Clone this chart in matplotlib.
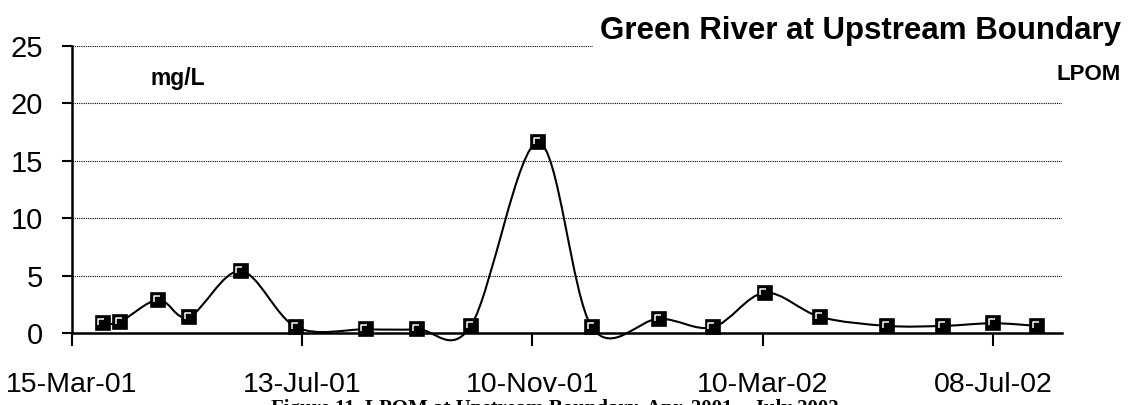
import numpy as np
import matplotlib
matplotlib.use("Agg")
import matplotlib.pyplot as plt
import matplotlib.dates as mdates
from matplotlib.path import Path
from matplotlib.patches import PathPatch

plt.rcParams['font.family'] = ['Liberation Sans', 'DejaVu Sans']

# ---------- data ----------
dates = ["2001-03-31", "2001-04-09", "2001-04-29", "2001-05-15", "2001-06-11",
         "2001-07-10", "2001-08-15", "2001-09-11", "2001-10-09", "2001-11-13",
         "2001-12-11", "2002-01-15", "2002-02-12", "2002-03-11", "2002-04-09",
         "2002-05-14", "2002-06-12", "2002-07-08", "2002-07-31"]
lpom = [0.85, 0.97, 2.9, 1.4, 5.4,
        0.5, 0.32, 0.32, 0.65, 16.6,
        0.5, 1.25, 0.5, 3.5, 1.4,
        0.62, 0.62, 0.85, 0.62]
tick_dates = ["2001-03-15", "2001-07-13", "2001-11-10", "2002-03-10", "2002-07-08"]
tick_labels = ["15-Mar-01", "13-Jul-01", "10-Nov-01", "10-Mar-02", "08-Jul-02"]
y_ticks = [0, 5, 10, 15, 20, 25]

x = mdates.date2num(np.array(dates, dtype="datetime64[D]"))
y = np.array(lpom)
xt = mdates.date2num(np.array(tick_dates, dtype="datetime64[D]"))

W, H = 1133, 405
fig = plt.figure(figsize=(W/100, H/100), dpi=100)
ax = fig.add_axes([72/W, 1-333/H, (1062-72)/W, (333-46)/H])

# smoothed line like Excel (Catmull-Rom as cubic Bezier)
def smooth_path(px, py):
    pts = np.column_stack([px, py])
    n = len(pts)
    verts = [pts[0]]; codes = [Path.MOVETO]
    for i in range(n-1):
        p0 = pts[i-1] if i > 0 else pts[i]
        p1 = pts[i]; p2 = pts[i+1]
        p3 = pts[i+2] if i+2 < n else pts[i+1]
        c1 = p1 + (p2-p0)/6.0
        c2 = p2 - (p3-p1)/6.0
        verts += [c1, c2, p2]; codes += [Path.CURVE4]*3
    return Path(verts, codes)

ax.add_patch(PathPatch(smooth_path(x, y), fc="none", ec="black", lw=1.5, zorder=3, clip_on=False))

ax.plot(x, y, ls="none", marker="s", ms=9.5, mfc="black", mec="black", mew=1.2, zorder=4, clip_on=False)
gamma = Path([(-1, -1), (-1, 1), (1, 1)], [Path.MOVETO, Path.LINETO, Path.LINETO])
ax.plot(x - 0.7, y + 0.09, ls="none", marker=gamma, ms=5, mfc="none", mec="white", mew=1.1,
        zorder=5, clip_on=False)

ax.set_xlim(xt[0], xt[0] + 516)
ax.set_ylim(0, 25)
ax.set_xticks(xt)
ax.set_xticklabels(tick_labels)
ax.set_yticks(y_ticks)
ax.yaxis.grid(True, color="black", ls=(0, (1, 1)), lw=0.8)
for s in ["top", "right"]:
    ax.spines[s].set_visible(False)
for s in ["left", "bottom"]:
    ax.spines[s].set_linewidth(1.8)
ax.tick_params(axis="x", direction="out", length=9, width=1.5, pad=19, labelsize=20.5)
ax.tick_params(axis="y", direction="out", length=7, width=1.5, pad=14, labelsize=21)

fig.text(150/W, 1-78/H, "mg/L", ha="left", va="center", fontsize=16.5, fontweight="bold")
fig.text(1121/W, 1-31/H, "Green River at Upstream Boundary", ha="right", va="center",
         fontsize=22.5, fontweight="bold",
         bbox=dict(facecolor="white", edgecolor="none", pad=5))
fig.text(1121/W, 1-75/H, "LPOM", ha="right", va="center", fontsize=16, fontweight="bold")
fig.text(555/W, 1-399/H, "Figure 11. LPOM at Upstream Boundary, Apr. 2001 \u2013 July 2002",
         ha="center", va="top", fontsize=15, fontweight="bold", family="Liberation Serif")

fig.savefig("out.png", dpi=100)
